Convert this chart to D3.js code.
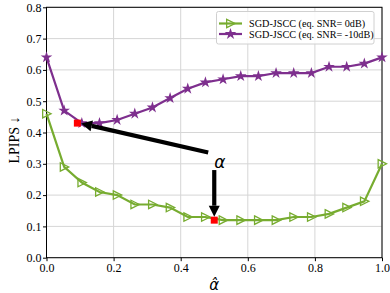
<!DOCTYPE html>
<html>
<head>
<meta charset="utf-8">
<script src="https://cdn.jsdelivr.net/npm/d3@7"></script>
<style>
  body { margin: 0; background: #fff; }
  svg { display: block; font-family: "Liberation Serif", "DejaVu Serif", serif; }
</style>
</head>
<body>
<div id="chart"></div>
<script>
// alpha-hat values, 20 steps from 0 to 1
var alphaHat = d3.range(20).map(function(i) { return i / 19; });

var snr0 = [0.46, 0.29, 0.24, 0.21, 0.20, 0.17, 0.17, 0.16, 0.13, 0.13,
            0.12, 0.12, 0.12, 0.12, 0.13, 0.13, 0.14, 0.16, 0.18, 0.30];
var snrM10 = [0.64, 0.47, 0.43, 0.43, 0.44, 0.46, 0.48, 0.51, 0.54, 0.56,
              0.57, 0.58, 0.58, 0.59, 0.59, 0.59, 0.61, 0.61, 0.62, 0.64];

var seriesNames = ["SGD-JSCC (eq. SNR= 0dB)", "SGD-JSCC (eq. SNR= -10dB)"];

// true alpha markers (red squares)
var trueAlpha = [[0.092, 0.43], [0.5, 0.12]];

var xTicks = [0.0, 0.2, 0.4, 0.6, 0.8, 1.0];
var yTicks = [0.0, 0.1, 0.2, 0.3, 0.4, 0.5, 0.6, 0.7, 0.8];

var W = 390, H = 293;
var margin = {left: 46.5, right: 8, top: 7.3, bottom: 35.3};
var serif = "'Liberation Serif', 'DejaVu Serif', serif";

var svg = d3.select("#chart").append("svg")
    .attr("width", W)
    .attr("height", H);

var x = d3.scaleLinear().domain([0, 1]).range([margin.left, W - margin.right]);
var y = d3.scaleLinear().domain([0, 0.8]).range([H - margin.bottom, margin.top]);

// grid
svg.append("g").selectAll("line.gx")
    .data(xTicks).enter().append("line")
    .attr("x1", function(d) { return x(d); })
    .attr("x2", function(d) { return x(d); })
    .attr("y1", y(0)).attr("y2", y(0.8))
    .attr("stroke", "#d6d6d6").attr("stroke-width", 1);
svg.append("g").selectAll("line.gy")
    .data(yTicks).enter().append("line")
    .attr("x1", x(0)).attr("x2", x(1))
    .attr("y1", function(d) { return y(d); })
    .attr("y2", function(d) { return y(d); })
    .attr("stroke", "#d6d6d6").attr("stroke-width", 1);

// axes
var xAxis = svg.append("g")
    .attr("transform", "translate(0," + y(0) + ")")
    .call(d3.axisBottom(x).tickValues(xTicks).tickFormat(d3.format(".1f")).tickSize(3.5));
var yAxis = svg.append("g")
    .attr("transform", "translate(" + x(0) + ",0)")
    .call(d3.axisLeft(y).tickValues(yTicks).tickFormat(d3.format(".1f")).tickSize(3.5));
[xAxis, yAxis].forEach(function(a) {
    a.attr("font-family", null).attr("font-size", null);
    a.select(".domain").remove();
    a.selectAll("text").style("font-family", serif)
        .style("font-size", "12px").attr("fill", "#000");
    a.selectAll("line").attr("stroke", "#000");
});
yAxis.selectAll("text").attr("x", -5);
xAxis.selectAll("text").attr("y", 6);

// frame
svg.append("rect")
    .attr("x", x(0)).attr("y", y(0.8))
    .attr("width", x(1) - x(0)).attr("height", y(0) - y(0.8))
    .attr("fill", "none").attr("stroke", "#000").attr("stroke-width", 1);

var green = "#77ac30", purple = "#7e2f8e";

var line = d3.line()
    .x(function(d, i) { return x(alphaHat[i]); })
    .y(function(d) { return y(d); });

function triRight(s) {
    return "M" + (-s * 0.55) + "," + (-s * 0.6) + "L" + (s * 0.65) + ",0L" + (-s * 0.55) + "," + (s * 0.6) + "Z";
}
var star = d3.symbol().type(d3.symbolStar).size(42);

// green series
svg.append("path").datum(snr0)
    .attr("d", line).attr("fill", "none")
    .attr("stroke", green).attr("stroke-width", 2.2);
svg.append("g").selectAll("path")
    .data(snr0).enter().append("path")
    .attr("d", triRight(7))
    .attr("transform", function(d, i) { return "translate(" + x(alphaHat[i]) + "," + y(d) + ")"; })
    .attr("fill", "none").attr("stroke", green).attr("stroke-width", 1.3);

// purple series
svg.append("path").datum(snrM10)
    .attr("d", line).attr("fill", "none")
    .attr("stroke", purple).attr("stroke-width", 2.2);
svg.append("g").selectAll("path")
    .data(snrM10).enter().append("path")
    .attr("d", star)
    .attr("transform", function(d, i) { return "translate(" + x(alphaHat[i]) + "," + y(d) + ")"; })
    .attr("fill", purple);

// red squares for the true alpha
svg.append("g").selectAll("rect")
    .data(trueAlpha).enter().append("rect")
    .attr("x", function(d) { return x(d[0]) - 3.5; })
    .attr("y", function(d) { return y(d[1]) - 3.5; })
    .attr("width", 7).attr("height", 7)
    .attr("fill", "#ff0000");

// arrows (data coords: from, to)
var arrows = [[[0.482, 0.336], [0.103, 0.429]], [[0.5, 0.28], [0.5, 0.131]]];
arrows.forEach(function(a) {
    var x0 = x(a[0][0]), y0 = y(a[0][1]), x1 = x(a[1][0]), y1 = y(a[1][1]);
    var ang = Math.atan2(y1 - y0, x1 - x0);
    var hl = 11, hw = 5.5;
    var bx = x1 - hl * Math.cos(ang), by = y1 - hl * Math.sin(ang);
    svg.append("line")
        .attr("x1", x0).attr("y1", y0).attr("x2", bx).attr("y2", by)
        .attr("stroke", "#000").attr("stroke-width", 4.2);
    var px = -Math.sin(ang) * hw, py = Math.cos(ang) * hw;
    svg.append("path")
        .attr("d", "M" + x1 + "," + y1 + "L" + (bx + px) + "," + (by + py) + "L" + (bx - px) + "," + (by - py) + "Z")
        .attr("fill", "#000");
});

svg.append("text")
    .attr("x", x(0.517)).attr("y", y(0.306) + 6)
    .attr("text-anchor", "middle")
    .style("font-family", "'DejaVu Sans', sans-serif")
    .attr("font-style", "italic")
    .attr("font-size", "17px")
    .text("α");

// axis labels
svg.append("text")
    .attr("x", x(0.5)).attr("y", 290)
    .attr("text-anchor", "middle")
    .style("font-family", "'DejaVu Sans', sans-serif")
    .attr("font-style", "italic")
    .attr("font-size", "15px")
    .text("\u03b1\u0302");

svg.append("text")
    .attr("transform", "translate(19," + 140 + ") rotate(-90)")
    .attr("text-anchor", "middle")
    .style("font-family", serif)
    .attr("font-size", "14px")
    .text("LPIPS \u2193");

// legend
var lg = svg.append("g");
lg.append("rect")
    .attr("x", 216.5).attr("y", 11.5).attr("width", 157.5).attr("height", 32.5)
    .attr("rx", 2).attr("fill", "#fff").attr("fill-opacity", 0.85)
    .attr("stroke", "#d0d0d0").attr("stroke-width", 1);
[green, purple].forEach(function(c, i) {
    var ly = 23.5 + i * 10.5;
    lg.append("line").attr("x1", 219).attr("x2", 242).attr("y1", ly).attr("y2", ly)
        .attr("stroke", c).attr("stroke-width", 2.2);
    if (i === 0) {
        lg.append("path").attr("d", triRight(7))
            .attr("transform", "translate(230.5," + ly + ")")
            .attr("fill", "none").attr("stroke", c).attr("stroke-width", 1.3);
    } else {
        lg.append("path").attr("d", star)
            .attr("transform", "translate(230.5," + ly + ")")
            .attr("fill", c);
    }
    lg.append("text").attr("x", 249).attr("y", ly + 3.5)
        .style("font-family", serif)
        .attr("font-size", "10.2px").text(seriesNames[i]);
});
</script>
</body>
</html>
